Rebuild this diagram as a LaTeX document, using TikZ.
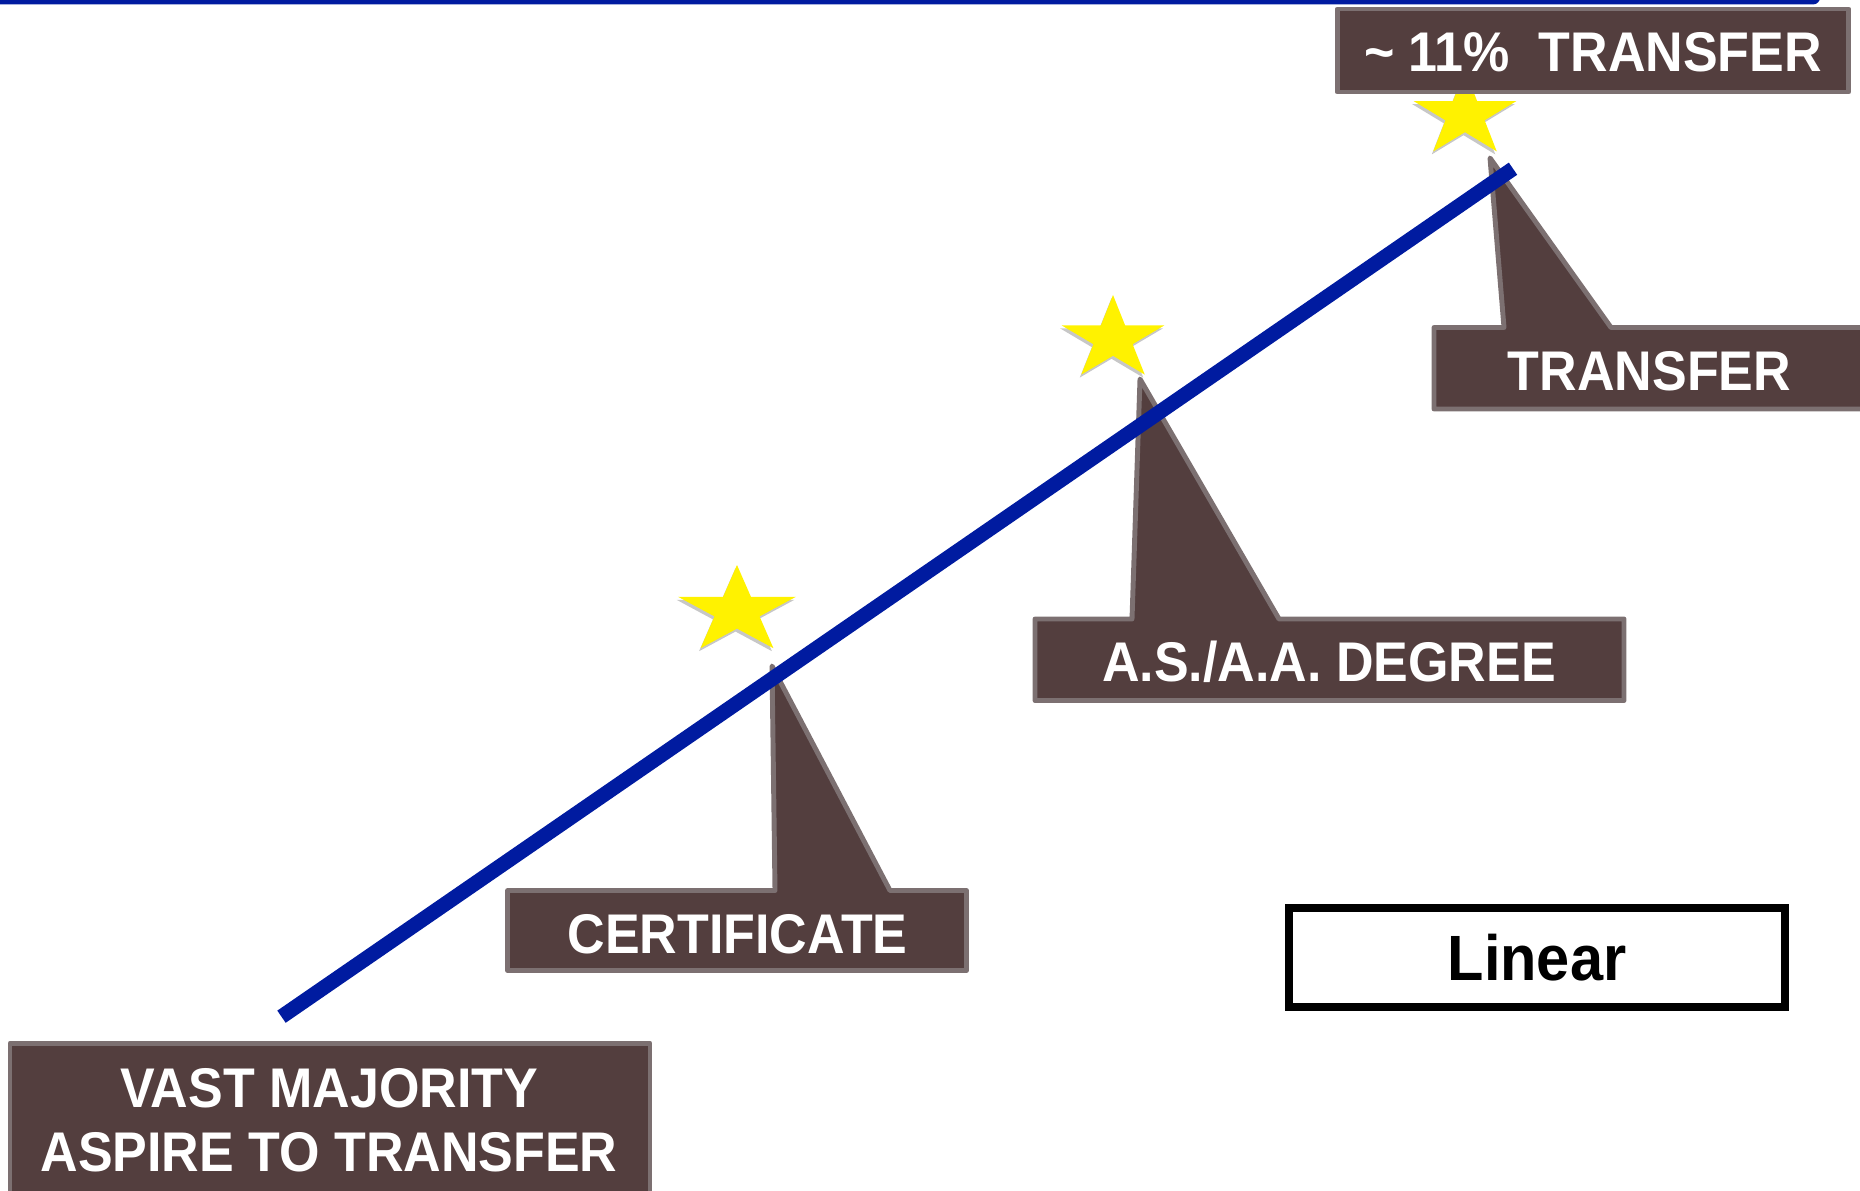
\documentclass[tikz,border=0pt]{standalone}
\usepackage{fontspec}
\setmainfont{Liberation Sans}
\newfontfamily\narrowsans[FakeStretch=0.93]{Liberation Sans}
\definecolor{trendblue}{RGB}{0,27,160}
\definecolor{boxbrown}{RGB}{83,62,62}
\definecolor{boxrim}{RGB}{124,112,113}
% five-point star: centre x, centre y, x radius, y radius
\newcommand{\goldstar}[4]{%
  \fill[black,opacity=0.22] plot[samples at={0,...,9},variable=\k]
    ({#1-1.5+#3*(1-0.618*mod(\k,2))*cos(90+36*\k)},{#2+3-#4*(1-0.618*mod(\k,2))*sin(90+36*\k)}) -- cycle;
  \fill[yellow] plot[samples at={0,...,9},variable=\k]
    ({#1+#3*(1-0.618*mod(\k,2))*cos(90+36*\k)},{#2-#4*(1-0.618*mod(\k,2))*sin(90+36*\k)}) -- cycle;}

\begin{document}
\begin{tikzpicture}[x=0.01cm,y=-0.01cm,
    calloutpoly/.style={fill=boxbrown,draw=boxrim,line width=1.4pt,line join=round},
    callouttext/.style={text=white,inner sep=0pt,font=\narrowsans\fontsize{15.9}{18.3}\selectfont\bfseries},
    trend/.style={trendblue,line width=4.2pt}]
  \useasboundingbox (0,0) rectangle (1860,1191);
  \clip (0,0) rectangle (1860,1191);
  \fill[trendblue,rounded corners=2] (-10,-10) rectangle (1820,4.5);

  % stars on the path
  \goldstar{737}{611}{62}{46}
  \goldstar{1113}{339}{54}{44}
  \goldstar{1465}{115}{54}{45}

  % callouts
  \draw[calloutpoly] (1337.5,9) rectangle (1848.5,92);
  \node[callouttext,anchor=base] (top) at (1593,71.7) {\textasciitilde{} 11\%\ \ TRANSFER};

  \draw[calloutpoly] (1434,327.5) -- (1504,327.5) -- (1490,158) -- (1611,327.5)
        -- (1880,327.5) -- (1880,409) -- (1434,409) -- cycle;
  \node[callouttext,anchor=base] (transfer) at (1649.5,390) {TRANSFER};

  \draw[calloutpoly] (1035,619) -- (1132,619) -- (1140,379) -- (1279,619)
        -- (1624,619) -- (1624,700.5) -- (1035,700.5) -- cycle;
  \node[callouttext,anchor=base] (degree) at (1329,681.7) {A.S./A.A. DEGREE};

  \draw[calloutpoly] (507.5,890.5) -- (775,890.5) -- (772,666) -- (890,890.5)
        -- (966.5,890.5) -- (966.5,970.5) -- (507.5,970.5) -- cycle;
  \node[callouttext,anchor=base] (cert) at (737.5,953.3) {CERTIFICATE};

  \draw[calloutpoly] (10,1043.5) rectangle (650,1210);
  \node[callouttext,align=center] (vast) at (329,1120.5) {VAST MAJORITY\\ASPIRE TO TRANSFER};

  \node[draw=black,line width=2.1pt,minimum width=4.96cm,minimum height=0.99cm,inner sep=0pt,
        font=\narrowsans\fontsize{18.2}{21}\selectfont\bfseries] (linear) at (1537,957.5) {Linear};

  % the trend line
  \coordinate (low) at (281.5,1016.7);
  \coordinate (high) at (1513,168.7);
  \draw[trend] (low) -- (high);
\end{tikzpicture}
\end{document}
